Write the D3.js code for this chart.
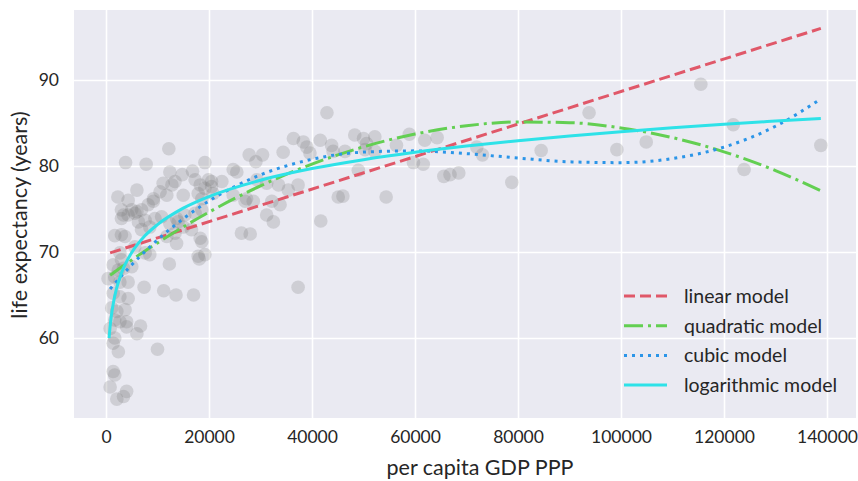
<!DOCTYPE html>
<html><head><meta charset="utf-8">
<script src="https://cdn.jsdelivr.net/npm/d3@7"></script>
<style>
body{margin:0;background:#fff;}
text{font-family:Lato,"Noto Sans",sans-serif;fill:#262626;}
</style>
</head><body>
<svg id="chart" width="858" height="481"></svg>
<script>
// ---- data ----
const gdp = [400,800,800,1100,1400,1400,1400,1400,1700,1700,
1700,1700,1700,2100,2100,2300,2400,2400,2700,2700,
2700,2700,3000,3000,3000,3000,3400,3400,3400,3700,
3700,3800,4000,4000,4000,4300,4300,4300,4300,5000,
5000,5600,6000,6000,6000,5600,6300,6700,6900,6900,
7400,7600,7600,7800,8200,8500,8500,9200,9200,9500,
10000,10500,10800,11100,11200,11800,11800,12200,12300,12400,
12400,12800,13400,13400,13600,13700,13700,14000,14800,15000,
15000,15300,16600,16800,17000,17300,17300,17900,17900,18100,
18300,18600,18600,18600,19200,19200,19900,20500,20500,19200,
20800,22500,24700,25400,24700,26300,27000,27300,27800,28000,
28600,29100,29300,30400,31200,31200,32200,32500,33500,33800,
34400,35400,36400,37300,37300,38300,39000,39600,41600,41700,
42900,43800,44100,45100,46000,46400,48300,50000,52200,50600,
50300,52200,49000,54400,56400,58900,59700,61600,61900,64300,
65600,66800,68500,72000,73100,78800,84500,93800,99200,104900,
115500,121800,123900,138800,18300];
const lifeExp = [66.9,61.1,54.3,63.5,68.5,65.2,59.4,56.1,71.9,67.1,
62.1,60.0,55.7,63.1,52.9,76.4,67.9,58.4,69.9,66.5,
64.8,61.9,74.9,73.9,72.0,69.1,74.3,68.1,53.2,71.8,
63.3,80.4,61.9,61.3,53.8,76.0,74.3,66.5,64.6,74.9,
68.3,74.5,77.2,74.7,60.5,70.6,73.5,61.4,74.9,72.6,
65.9,73.7,69.9,80.2,75.5,72.9,69.7,76.2,75.9,73.9,
58.7,77.0,74.1,78.0,65.5,76.6,71.8,82.0,68.6,79.3,
73.3,77.8,78.2,72.2,65.0,73.9,71.0,73.5,79.0,76.6,
72.9,74.3,72.6,79.4,65.0,78.4,74.5,76.8,69.5,69.2,
71.6,76.2,74.9,71.2,80.4,69.7,78.4,77.6,78.2,77.4,
76.8,78.2,79.6,79.3,76.6,72.2,75.9,76.2,81.3,72.1,
75.9,80.5,78.4,81.3,78.0,74.3,75.9,73.5,77.8,75.5,
81.6,77.2,83.2,77.8,65.9,82.8,82.2,81.5,83.0,73.6,
86.2,82.4,81.7,76.4,76.5,81.7,83.6,83.2,83.4,82.6,
81.9,81.7,79.5,76.4,82.4,83.7,80.4,80.2,83.0,83.3,
78.8,79.0,79.2,82.2,81.3,78.1,81.8,86.2,81.9,82.8,
89.5,84.8,79.6,82.4,77.8];

const linearX = [800, 138800];
const linearY = [69.9, 96.0];
const fitX = [800,1000,2000,3000,5000,7500,10000,15000,20000,30000,40000,50000,60000,70000,80000,90000,100000,110000,120000,130000,138800];
const quadraticY = [67.31,67.39,67.82,68.25,69.08,70.1,71.06,72.92,74.64,77.69,80.22,82.23,83.72,84.68,85.12,85.04,84.43,83.3,81.65,79.47,77.12];
const cubicY = [65.71,65.85,66.54,67.22,68.51,70.01,71.41,73.87,75.93,78.97,80.78,81.62,81.76,81.44,80.93,80.49,80.39,80.87,82.2,84.62,87.8];
const logX = [600,800,1000,1500,2000,3000,5000,7500,10000,15000,20000,30000,40000,50000,60000,70000,80000,90000,100000,110000,120000,130000,138800];
const logY = [60.0,61.35,62.4,64.3,65.65,67.55,69.94,71.85,73.19,75.1,76.45,78.35,79.7,80.74,81.6,82.32,82.95,83.5,83.99,84.44,84.85,85.22,85.53];

const xTicks = [0,20000,40000,60000,80000,100000,120000,140000];
const yTicks = [60,70,80,90];
const modelNames = ["linear model","quadratic model","cubic model","logarithmic model"];
const modelColors = ["#e05869","#63cf52","#2b95e8","#2ee2e8"];
const modelDash = ["11,5","19,5,3,5","3,5",null];
const xLabel = "per capita GDP PPP";
const yLabel = "life expectancy (years)";

// ---- layout ----
const pL = 74, pR = 856, pT = 10, pB = 418;
const svg = d3.select("#chart");
const x = d3.scaleLinear().domain([-6214, 145630]).range([pL, pR]);
const y = d3.scaleLinear().domain([50.70, 98.14]).range([pB, pT]);

svg.append("rect").attr("x", pL).attr("y", pT)
  .attr("width", pR-pL).attr("height", pB-pT).attr("fill", "#eaeaf2");

const gx = svg.append("g").attr("transform", `translate(0,${pB})`)
  .call(d3.axisBottom(x).tickValues(xTicks).tickFormat(d3.format("d")).tickSize(-(pB-pT)).tickPadding(13));
const gy = svg.append("g").attr("transform", `translate(${pL},0)`)
  .call(d3.axisLeft(y).tickValues(yTicks).tickFormat(d3.format("d")).tickSize(-(pR-pL)).tickPadding(15));
[gx, gy].forEach(g => {
  g.select(".domain").remove();
  g.selectAll(".tick line").attr("stroke", "#fff").attr("stroke-width", 1.6);
  g.selectAll(".tick text").attr("font-size", 17.5).attr("font-family", "Lato, sans-serif").attr("fill", "#262626");
});

svg.append("defs").append("clipPath").attr("id", "clip")
  .append("rect").attr("x", pL).attr("y", pT).attr("width", pR-pL).attr("height", pB-pT);
const plot = svg.append("g").attr("clip-path", "url(#clip)");

plot.selectAll("circle").data(gdp.map((g,i)=>[g, lifeExp[i]])).join("circle")
  .attr("cx", d => x(d[0])).attr("cy", d => y(d[1])).attr("r", 6.8)
  .attr("fill", "#7a7a7a").attr("fill-opacity", 0.25);

const line = d3.line().x(d => x(d[0])).y(d => y(d[1])).curve(d3.curveMonotoneX);
const series = [
  linearX.map((v,i)=>[v, linearY[i]]),
  fitX.map((v,i)=>[v, quadraticY[i]]),
  fitX.map((v,i)=>[v, cubicY[i]]),
  logX.map((v,i)=>[v, logY[i]])
];
series.forEach((s, i) => {
  plot.append("path").datum(s).attr("d", line).attr("fill", "none")
    .attr("stroke", modelColors[i]).attr("stroke-width", 3)
    .attr("stroke-dasharray", modelDash[i]);
});

// legend
const lg = svg.append("g");
modelNames.forEach((name, i) => {
  const yy = 296 + i*29.7;
  lg.append("line").attr("x1", 624).attr("x2", 667).attr("y1", yy).attr("y2", yy)
    .attr("stroke", modelColors[i]).attr("stroke-width", 3).attr("stroke-dasharray", modelDash[i]);
  lg.append("text").attr("x", 684).attr("y", yy).attr("dy", "0.35em")
    .attr("font-size", 19.5).text(name);
});

svg.append("text").attr("x", 480).attr("y", 467).attr("dy", "0.35em")
  .attr("text-anchor", "middle").attr("font-size", 21.5).text(xLabel);
svg.append("text").attr("transform", `translate(19,215) rotate(-90)`)
  .attr("dy", "0.35em").attr("text-anchor", "middle").attr("font-size", 21.5).text(yLabel);
</script>
</body></html>
